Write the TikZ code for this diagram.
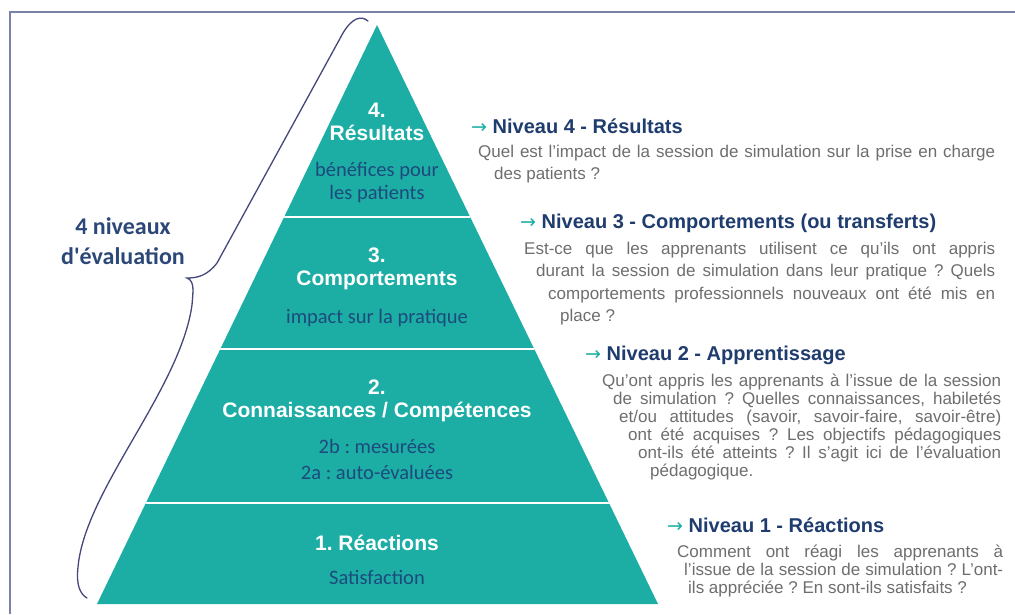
\documentclass[tikz,border=0pt]{standalone}
\usepackage{fontspec}
\setmainfont{Liberation Sans}
\newfontfamily\carlito{Carlito}
\newfontfamily\dejavu{DejaVu Sans}
\definecolor{pyrteal}{HTML}{1CAEA5}
\definecolor{navyhead}{HTML}{1F3C6E}
\definecolor{subblue}{HTML}{1D4A7C}
\definecolor{bodygray}{HTML}{6E6E6E}
\definecolor{bracecol}{HTML}{45477A}
\definecolor{framecol}{HTML}{7A82AA}
\definecolor{lblblue}{HTML}{2B4878}
\newcommand{\tealarrow}{{\dejavu\mdseries\fontsize{19}{19}\selectfont\color{pyrteal}→}}
\newcommand{\bodypar}[3]{\parbox[t]{#1}{\frenchspacing\fontsize{17}{#2}\selectfont #3}}
\frenchspacing
\tikzset{
  ttl/.style={text=white, font=\frenchspacing\bfseries\fontsize{21}{21}\selectfont, inner sep=0pt, anchor=base},
  sub/.style={text=subblue, font=\carlito\fontsize{20.5}{20.5}\selectfont, inner sep=0pt, anchor=base},
  hdr/.style={text=navyhead, font=\bfseries\fontsize{20}{20}\selectfont, inner sep=0pt, anchor=base west},
  body/.style={text=bodygray, inner sep=0pt, anchor=base west},
  lbl/.style={text=lblblue, font=\carlito\bfseries\fontsize{24}{24}\selectfont, inner sep=0pt, anchor=base},
  divider/.style={white, line width=2.5pt},
  bracepath/.style={draw=bracecol, line width=1.3pt, line cap=round},
  framepath/.style={draw=framecol, line width=1.5pt},
}
\begin{document}
\begin{tikzpicture}[x=1pt,y=-1pt]
\useasboundingbox (0,0) rectangle (1015,614);
\fill[white] (0,0) rectangle (1015,614);
% frame
\draw[framepath] (10,614) -- (10,12) -- (1015,12);
% pyramid
\fill[pyrteal] (377,25) -- (658,604) -- (97,604) -- cycle;
\begin{scope}
  \clip (377,25) -- (658,604) -- (97,604) -- cycle;
  \draw[divider] (90,217) -- (670,217);
  \draw[divider] (90,349) -- (670,349);
  \draw[divider] (90,503) -- (670,503);
\end{scope}
% brace
\draw[bracepath] (368,21) .. controls (361,15) and (352,18) .. (343,33)
  -- (217,263) .. controls (207,276) and (197,278) .. (187,278)
  .. controls (195,281) and (193,292) .. (192,305)
  .. controls (180,390) and (85,490) .. (78,567)
  .. controls (76,585) and (80,594) .. (87,598);
\node[lbl] (lblA) at (123,234) {4 niveaux};
\node[lbl] (lblB) at (123,264) {d'évaluation};
% pyramid texts
\node[ttl] (t4n) at (377,117) {4.};
\node[ttl] (t4) at (377,140) {Résultats};
\node[sub] (s4a) at (377,176) {bénéfices pour};
\node[sub] (s4b) at (377,199) {les patients};
\node[ttl] (t3n) at (377,262) {3.};
\node[ttl] (t3) at (377,285) {Comportements};
\node[sub] (s3) at (377,323) {impact sur la pratique};
\node[ttl] (t2n) at (377,394) {2.};
\node[ttl] (t2) at (377,417) {Connaissances / Compétences};
\node[sub] (s2b) at (377,453) {2b : mesurées};
\node[sub] (s2a) at (377,479) {2a : auto-évaluées};
\node[ttl] (t1) at (377,550) {1. Réactions};
\node[sub] (s1) at (377,584) {Satisfaction};
% right texts
\node[hdr] (h4) at (471,133) {\tealarrow{} Niveau 4 - Résultats};
\node[body] (b4) at (478,157) {\bodypar{517pt}{22pt}{\parshape 2 0pt 517pt 16pt 501pt
  Quel est l'impact de la session de simulation sur la prise en charge\linebreak
  des patients ?}};
\node[hdr] (h3) at (520,228) {\tealarrow{} Niveau 3 - Comportements (ou transferts)};
\node[body] (b3) at (524,254) {\bodypar{471pt}{22.5pt}{\parshape 4 0pt 471pt 12pt 459pt 24pt 447pt 36pt 435pt
  Est-ce que les apprenants utilisent ce qu'ils ont appris\linebreak
  durant la session de simulation dans leur pratique ? Quels\linebreak
  comportements professionnels nouveaux ont été mis en\linebreak
  place ?}};
\node[hdr] (h2) at (585,360) {\tealarrow{} Niveau 2 - Apprentissage};
\node[body] (b2) at (602,386) {\bodypar{399pt}{18pt}{\parshape 6 0pt 399pt 11pt 388pt 17pt 382pt 26pt 373pt 36pt 363pt 48pt 351pt
  Qu'ont appris les apprenants à l'issue de la session\linebreak
  de simulation ? Quelles connaissances, habiletés\linebreak
  et/ou attitudes (savoir, savoir-faire, savoir-être)\linebreak
  ont été acquises ? Les objectifs pédagogiques\linebreak
  ont-ils été atteints ? Il s'agit ici de l'évaluation\linebreak
  pédagogique.}};
\node[hdr] (h1) at (667,532) {\tealarrow{} Niveau 1 - Réactions};
\node[body] (b1) at (677,557) {\bodypar{326pt}{18pt}{\parshape 3 0pt 326pt 7pt 319pt 11pt 315pt
  Comment ont réagi les apprenants à\linebreak
  l'issue de la session de simulation ? L'ont-\linebreak
  ils appréciée ? En sont-ils satisfaits ?}};
\end{tikzpicture}
\end{document}
